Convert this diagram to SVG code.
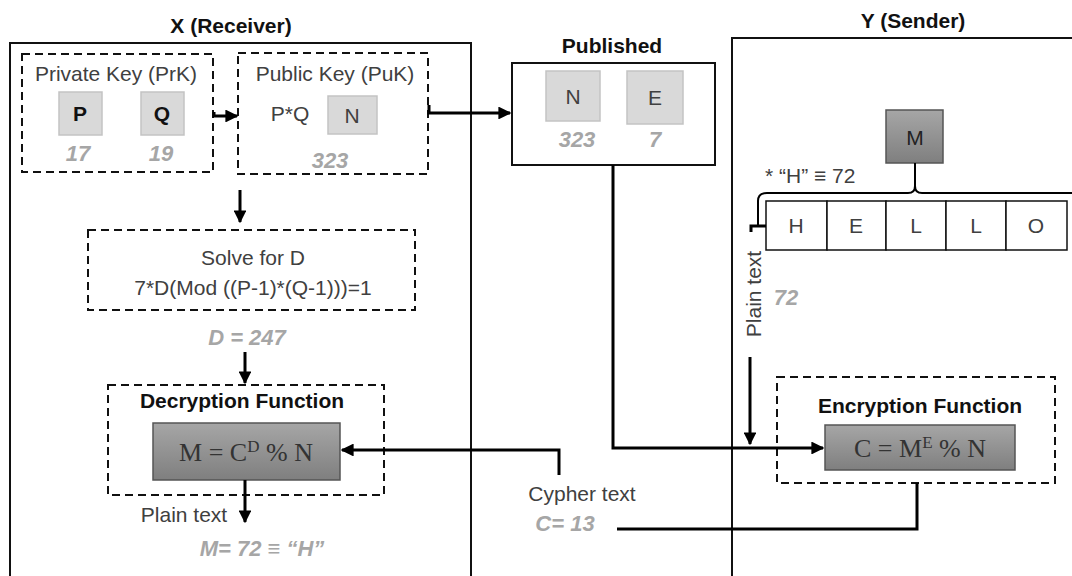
<svg xmlns="http://www.w3.org/2000/svg" width="1072" height="576" viewBox="0 0 1072 576">
<defs>
<marker id="ah" viewBox="0 0 10 10" refX="9" refY="5" markerWidth="4.3" markerHeight="4.3" orient="auto" markerUnits="strokeWidth">
<path d="M0,0 L10,5 L0,10 z" fill="#000"/>
</marker>
<linearGradient id="dg" x1="0" y1="0" x2="0" y2="1">
<stop offset="0" stop-color="#a6a6a6"/>
<stop offset="1" stop-color="#7f7f7f"/>
</linearGradient>
<style>
text{font-family:"Liberation Sans",Arial,sans-serif;fill:#404040}
.title{font-weight:bold;font-size:21px;fill:#111}
.btitle{font-weight:bold;font-size:21px;fill:#111}
.lbl{font-size:21px}
.num{font-size:22px;font-style:italic;font-weight:bold;fill:#a6a6a6}
.frm{font-family:"Liberation Serif","Times New Roman",serif;font-size:26px;fill:#333}
.outer{fill:#fff;stroke:#111;stroke-width:2}
.dash{fill:none;stroke:#111;stroke-width:2;stroke-dasharray:8,5}
.lg{fill:#d9d9d9;stroke:#c3c3c3;stroke-width:1.5}
.dk{fill:url(#dg);stroke:#555;stroke-width:1.5}
.cell{fill:#fff;stroke:#111;stroke-width:1.5}
.ln{fill:none;stroke:#000;stroke-width:3}
.arr{fill:none;stroke:#000;stroke-width:3;marker-end:url(#ah)}
.thin{fill:none;stroke:#000;stroke-width:2}
</style>
</defs>
<rect width="1072" height="576" fill="#fff"/>

<g id="receiver">
<rect class="outer" x="10" y="43" width="461" height="540"/>
<text class="title" x="231" y="33" text-anchor="middle">X (Receiver)</text>
</g>
<g id="sender">
<rect class="outer" x="732" y="38" width="360" height="545"/>
<text class="title" x="913" y="28" text-anchor="middle">Y (Sender)</text>
</g>
<g id="published">
<text class="title" x="612" y="53" text-anchor="middle">Published</text>
<rect class="outer" x="512" y="63" width="203" height="102"/>
<rect class="lg" x="546" y="71" width="54" height="50"/>
<text class="lbl" x="573" y="104" text-anchor="middle">N</text>
<rect class="lg" x="627" y="71" width="56" height="53"/>
<text class="lbl" x="655" y="105" text-anchor="middle">E</text>
<text class="num" x="577" y="147" text-anchor="middle">323</text>
<text class="num" x="655" y="147" text-anchor="middle">7</text>
</g>

<g id="private-key">
<rect class="dash" x="22" y="54" width="191" height="118"/>
<text class="lbl" x="116" y="81" text-anchor="middle">Private Key (PrK)</text>
<rect class="lg" x="59" y="92" width="43" height="43"/>
<text class="lbl" x="80" y="121" text-anchor="middle" style="font-weight:bold;fill:#111">P</text>
<rect class="lg" x="141" y="92" width="43" height="43"/>
<text class="lbl" x="162" y="121" text-anchor="middle" style="font-weight:bold;fill:#111">Q</text>
<text class="num" x="78" y="161" text-anchor="middle">17</text>
<text class="num" x="161" y="161" text-anchor="middle">19</text>
</g>
<g id="public-key">
<rect class="dash" x="238" y="53" width="190" height="121"/>
<text class="lbl" x="335" y="81" text-anchor="middle">Public Key (PuK)</text>
<text class="lbl" x="290" y="121" text-anchor="middle">P*Q</text>
<rect class="lg" x="328" y="96" width="49" height="38"/>
<text class="lbl" x="352" y="123" text-anchor="middle">N</text>
<text class="num" x="330" y="168" text-anchor="middle">323</text>
</g>
<g id="solve-d">
<rect class="dash" x="88" y="230" width="327" height="80"/>
<text class="lbl" x="253" y="265" text-anchor="middle">Solve for D</text>
<text class="lbl" x="253" y="295" text-anchor="middle">7*D(Mod ((P-1)*(Q-1)))=1</text>
<text class="num" x="247" y="345" text-anchor="middle">D = 247</text>
</g>
<g id="decryption">
<rect class="dash" x="108" y="385" width="276" height="110"/>
<text class="btitle" x="242" y="408" text-anchor="middle">Decryption Function</text>
<rect class="dk" x="153" y="423" width="187" height="57"/>
<text class="frm" x="246" y="461" text-anchor="middle">M = C<tspan baseline-shift="super" font-size="17">D</tspan> % N</text>
</g>
<g id="plain-out">
<text class="lbl" x="184" y="522" text-anchor="middle">Plain text</text>
<text class="num" x="262" y="556" text-anchor="middle">M= 72 ≡ “H”</text>
</g>
<g id="cypher">
<text class="lbl" x="582" y="501" text-anchor="middle">Cypher text</text>
<text class="num" x="565" y="531" text-anchor="middle">C= 13</text>
</g>
<g id="message">
<rect class="dk" x="886" y="110" width="57" height="53"/>
<text class="lbl" x="915" y="145" text-anchor="middle" style="fill:#222">M</text>
<text class="lbl" x="765" y="183">* “H” ≡ 72</text>
</g>
<g id="hello">
<rect class="cell" x="766" y="201" width="61" height="49"/>
<rect class="cell" x="827" y="201" width="59" height="49"/>
<rect class="cell" x="886" y="201" width="60" height="49"/>
<rect class="cell" x="946" y="201" width="60" height="49"/>
<rect class="cell" x="1006" y="201" width="61" height="49"/>
<text class="lbl" x="796" y="233" text-anchor="middle">H</text>
<text class="lbl" x="856" y="233" text-anchor="middle">E</text>
<text class="lbl" x="916" y="233" text-anchor="middle">L</text>
<text class="lbl" x="976" y="233" text-anchor="middle">L</text>
<text class="lbl" x="1036" y="233" text-anchor="middle">O</text>
</g>
<g id="plain-in">
<text class="lbl" x="0" y="0" text-anchor="middle" transform="translate(761,294) rotate(-90)">Plain text</text>
<text class="num" x="786" y="305" text-anchor="middle">72</text>
</g>
<g id="encryption">
<rect class="dash" x="777" y="377" width="278" height="106"/>
<text class="btitle" x="920" y="413" text-anchor="middle">Encryption Function</text>
<rect class="dk" x="825" y="425" width="190" height="45"/>
<text class="frm" x="920" y="457" text-anchor="middle">C = M<tspan baseline-shift="super" font-size="17">E</tspan> % N</text>
</g>

<g id="connectors">
<path class="arr" d="M214,112 L214,116 L237,116"/>
<path class="arr" d="M429,105 L429,113 L510,113"/>
<path class="arr" d="M240,190 L240,222"/>
<path class="arr" d="M245,352 L245,383"/>
<path class="arr" d="M245,480 L245,522"/>
<path class="arr" d="M559,475 L559,450 L342,450"/>
<path class="arr" d="M613,165 L613,448 L823,448"/>
<path class="ln" d="M917,483 L917,529 L617,529"/>
<path class="arr" d="M750,357 L750,444"/>
<path class="thin" d="M915,163 L915,186 Q915,193 908,193 L767,193 Q758,193 758,201 L758,226"/>
<path class="thin" d="M915,186 Q915,193 922,193 L1072,193"/>
<path class="ln" d="M751,232 L751,226 L766,226"/>
</g>
</svg>
